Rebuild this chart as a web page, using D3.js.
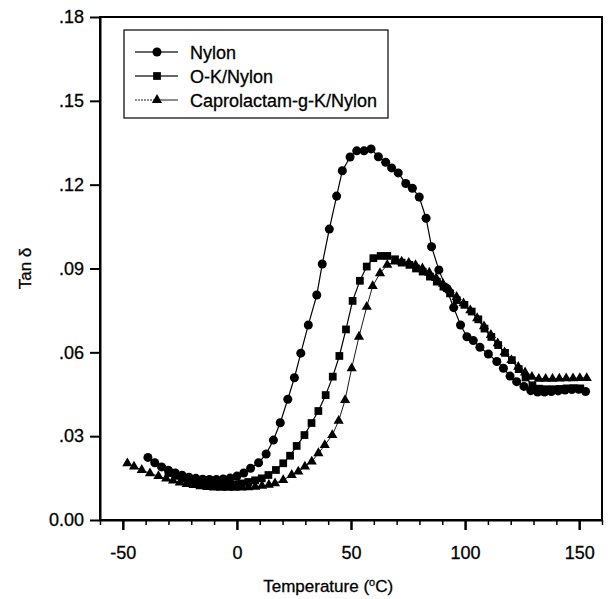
<!DOCTYPE html>
<html>
<head>
<meta charset="utf-8">
<style>
  body { margin: 0; background: white; }
  svg { font-family: Arial, 'Liberation Sans', sans-serif; }
  .axis path, .axis line { stroke: black; }
  .axis text { fill: black; font-size: 18px; stroke: black; stroke-width: 0.3px; }
  .label { stroke: black; stroke-width: 0.3px; }
</style>
</head>
<body>
<div id="chart"></div>
<script src="https://d3js.org/d3.v7.min.js"></script>
<script>

// series: [temperature, tan delta]
var nylon = [
  [-39,0.0224],[-36,0.0205],[-33,0.0190],[-30,0.0178],[-27,0.0168],[-24,0.0160],
  [-21,0.0153],[-18,0.0149],[-15,0.0146],[-12,0.0145],[-9,0.0145],[-6,0.0147],
  [-3,0.0150],[0,0.0157],[3,0.0168],[6,0.0185],[9.5,0.0205],[12.8,0.0236],
  [16,0.0286],[19,0.0348],[22.3,0.0432],[25.2,0.0509],[28,0.0597],[31.3,0.0698],
  [35,0.0805],[37.4,0.0916],[40.5,0.1041],[43.7,0.1159],[46.2,0.1250],[49.6,0.1299],
  [52.5,0.1321],[55.7,0.1321],[58.8,0.1328],[62,0.1300],[65.2,0.1280],[67.8,0.1260],
  [70.7,0.1242],[74,0.1204],[76.9,0.1187],[79.9,0.1156],[82.9,0.1080],[85.3,0.0978],
  [88.5,0.0895],[91.7,0.0830],[95,0.0760],[98,0.0698],[100.8,0.0656],[103.6,0.0642],
  [106.5,0.0618],[110.2,0.0594],[113.9,0.0567],[116.8,0.0543],[119.7,0.0515],[122.6,0.0495],
  [125.8,0.0478],[128.8,0.0463],[131.8,0.0458],[134.8,0.0458],[137.8,0.0460],[140.8,0.0462],
  [143.8,0.0465],[146.8,0.0467],[149.8,0.0468],[152.8,0.0460]
];

var okNylon = [
  [-30,0.0168],[-27,0.0158],[-24,0.0148],[-21,0.0140],[-18,0.0134],[-15,0.0130],
  [-12,0.0127],[-9,0.0126],[-6,0.0126],[-3,0.0127],[0,0.0128],[2,0.0131],
  [5,0.0136],[8,0.0142],[10.9,0.0149],[13.8,0.0161],[17.1,0.0179],[20.3,0.0203],
  [23.3,0.0230],[26.2,0.0265],[29.6,0.0304],[32.7,0.0347],[35.7,0.0390],[38.9,0.0447],
  [42,0.0513],[44.9,0.0587],[47.8,0.0682],[50.7,0.0784],[53.9,0.0856],[56.9,0.0907],
  [59.8,0.0937],[63,0.0945],[65.9,0.0945],[69.3,0.0933],[72.2,0.0921],[75.6,0.0913],
  [78.5,0.0900],[81.4,0.0889],[84.6,0.0871],[87.6,0.0853],[90.5,0.0835],[93.4,0.0811],
  [96.3,0.0787],[99.7,0.0770],[102.9,0.0746],[105.8,0.0718],[108.5,0.0685],[111.5,0.0655],
  [114.5,0.0626],[117.5,0.0598],[120.5,0.0572],[123.5,0.0540],[126.5,0.0510],[129.5,0.0482],
  [132.5,0.0470],[135.5,0.0468],[138.5,0.0468],[141.5,0.0469],[144.5,0.0471],[147.5,0.0472],
  [150.5,0.0471]
];

var caproNylon = [
  [-48,0.0203],[-45.1,0.0191],[-41.7,0.0179],[-38.1,0.0167],[-34.4,0.0157],[-31,0.0148],
  [-28,0.0141],[-25,0.0134],[-22,0.0129],[-19,0.0125],[-16,0.0121],[-13,0.0118],
  [-10,0.0116],[-7,0.0115],[-4,0.0115],[-1,0.0115],[2,0.0116],[5,0.0117],
  [8,0.0119],[11,0.0122],[14,0.0126],[16.7,0.0131],[20.3,0.0143],[24,0.0161],
  [26.9,0.0173],[29.8,0.0191],[32.8,0.0209],[35.7,0.0239],[38.5,0.0268],[41.8,0.0304],
  [44.6,0.0355],[47.4,0.0429],[50.3,0.0543],[53.5,0.0656],[56.9,0.0763],[59.5,0.0837],
  [62.7,0.0883],[65.9,0.0913],[69.3,0.0925],[72.2,0.0925],[75.3,0.0920],[78.3,0.0912],
  [81.3,0.0900],[84.3,0.0885],[87.3,0.0866],[90.3,0.0845],[93.3,0.0822],[96.3,0.0798],
  [99.3,0.0775],[102.3,0.0750],[105.3,0.0722],[108.3,0.0693],[111.3,0.0662],[114.3,0.0632],
  [117.3,0.0600],[120.3,0.0572],[123.3,0.0548],[126.3,0.0528],[129.3,0.0512],[132.3,0.0505],
  [135.3,0.0505],[138.3,0.0505],[141.3,0.0506],[144.3,0.0507],[147.3,0.0507],[150.3,0.0508],
  [153.3,0.0508]
];

var seriesNames = ["Nylon", "O-K/Nylon", "Caprolactam-g-K/Nylon"];
var xTicks = [-50, 0, 50, 100, 150];
var xMinorTicks = [-60,-40,-30,-20,-10,10,20,30,40,60,70,80,90,110,120,130,140,160];
var yTicks = [0, 0.03, 0.06, 0.09, 0.12, 0.15, 0.18];

var margin = {top: 17, right: 11, bottom: 79, left: 100},
    width = 613 - margin.left - margin.right,
    height = 599 - margin.top - margin.bottom;

var svg = d3.select("#chart")
  .append("svg")
    .attr("width", 613)
    .attr("height", 599);

var g = svg.append("g")
    .attr("transform", "translate(" + margin.left + "," + margin.top + ")");

var x = d3.scaleLinear().domain([-60, 160]).range([0, width]);
var y = d3.scaleLinear().domain([0, 0.18]).range([height, 0]);

// minor x ticks
g.append("g")
  .attr("class", "axis")
  .attr("transform", "translate(0," + height + ")")
  .call(d3.axisBottom(x).tickValues(xMinorTicks).tickSize(5).tickFormat(""))
  .call(function(a) { a.select(".domain").remove(); a.selectAll("line").attr("stroke-width", 1.5); });

// major x ticks (plain hyphen for negatives)
g.append("g")
  .attr("class", "axis")
  .attr("transform", "translate(0," + height + ")")
  .call(d3.axisBottom(x).tickValues(xTicks).tickSize(10).tickSizeOuter(0).tickPadding(16)
    .tickFormat(function(d) { return String(d); }))
  .call(function(a) {
    a.select(".domain").attr("stroke-width", 2);
    a.selectAll("line").attr("stroke-width", 2.5);
  });

var yFormat = function(d) { return d === 0 ? "0.00" : d3.format(".2f")(d).replace(/^0/, ""); };

g.append("g")
  .attr("class", "axis")
  .call(d3.axisLeft(y).tickValues(yTicks).tickSize(10).tickSizeOuter(0).tickPadding(6).tickFormat(yFormat))
  .call(function(a) {
    a.select(".domain").attr("stroke-width", 2);
    a.selectAll("line").attr("stroke-width", 2);
  });

// frame top & right
g.append("rect")
  .attr("x", 0).attr("y", 0)
  .attr("width", width).attr("height", height)
  .attr("fill", "none")
  .attr("stroke", "black")
  .attr("stroke-width", 2);

// axis titles
svg.append("text")
  .attr("class", "label")
  .attr("x", margin.left + x(40))
  .attr("y", 592)
  .attr("text-anchor", "middle")
  .style("font-size", "17px")
  .html('Temperature (<tspan dy="-6" font-size="11px">o</tspan><tspan dy="6">C)</tspan>');

svg.append("text")
  .attr("class", "label")
  .attr("transform", "translate(31," + (margin.top + y(0.09)) + ") rotate(-90)")
  .attr("text-anchor", "middle")
  .style("font-size", "17px")
  .text("Tan δ");

var symbols = [d3.symbolCircle, d3.symbolSquare, d3.symbolTriangle];
var sizes = [64, 60, 45];
var widths = [1.2, 1.2, 0.9];
var allData = [nylon, okNylon, caproNylon];

var line = d3.line()
  .x(function(d) { return x(d[0]); })
  .y(function(d) { return y(d[1]); });

allData.forEach(function(data, i) {
  g.append("path")
    .datum(data)
    .attr("fill", "none")
    .attr("stroke", "black")
    .attr("stroke-width", widths[i])
    .attr("d", line);

  g.selectAll(".m" + i)
    .data(data)
    .enter()
    .append("path")
      .attr("class", "m" + i)
      .attr("transform", function(d) { return "translate(" + x(d[0]) + "," + y(d[1]) + ")"; })
      .attr("d", d3.symbol().type(symbols[i]).size(sizes[i]))
      .attr("fill", "black");
});

// legend
var legend = svg.append("g").attr("transform", "translate(124,30)");
legend.append("rect")
  .attr("width", 264).attr("height", 88)
  .attr("fill", "white")
  .attr("stroke", "black")
  .attr("stroke-width", 1.2);

seriesNames.forEach(function(name, i) {
  var yy = 22 + i * 24;
  legend.append("line")
    .attr("x1", 11).attr("x2", 33)
    .attr("y1", yy).attr("y2", yy)
    .attr("stroke", "black")
    .attr("stroke-width", widths[i])
    .attr("stroke-dasharray", i === 2 ? "2,1" : null);
  legend.append("line")
    .attr("x1", 33).attr("x2", 54)
    .attr("y1", yy).attr("y2", yy)
    .attr("stroke", "black")
    .attr("stroke-width", widths[i]);
  legend.append("path")
    .attr("transform", "translate(33," + yy + ")")
    .attr("d", d3.symbol().type(symbols[i]).size(sizes[i]))
    .attr("fill", "black");
  legend.append("text")
    .attr("class", "label")
    .attr("x", 66).attr("y", yy + 6.5)
    .style("font-size", "18px")
    .text(name);
});

</script>
</body>
</html>
